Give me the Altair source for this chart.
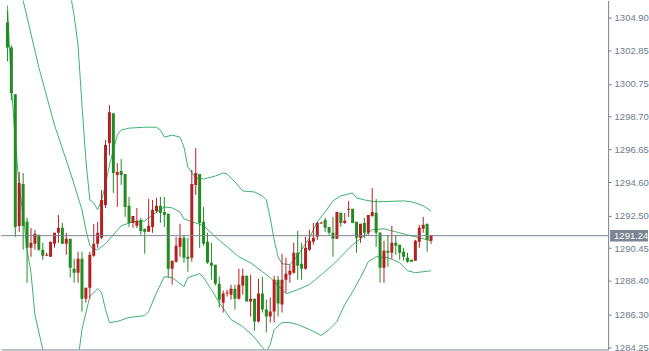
import altair as alt
import pandas as pd

# ---- candle data ----
opens = [1304.61, 1303.04, 1300.11, 1291.85, 1294.48, 1292.11, 1290.48, 1290.73, 1291.29, 1290.36,
         1289.98, 1289.92, 1290.73, 1291.42, 1291.73, 1290.73, 1291.04, 1289.17, 1288.92, 1289.79,
         1287.29, 1287.98, 1289.98, 1290.73, 1291.11, 1293.17, 1297.04, 1298.92, 1295.04, 1295.29,
         1295.11, 1293.11, 1292.04, 1291.86, 1292.23, 1291.67, 1291.48, 1291.79, 1292.79, 1293.11,
         1292.73, 1292.61, 1289.17, 1289.61, 1290.54, 1291.11, 1289.92, 1289.86, 1294.42, 1295.11,
         1292.11, 1290.86, 1289.54, 1289.42, 1288.23, 1287.04, 1287.61, 1287.54, 1287.92, 1287.29,
         1288.11, 1288.73, 1287.11, 1287.29, 1285.86, 1287.61, 1286.61, 1286.17, 1286.48, 1288.48,
         1286.92, 1288.48, 1288.79, 1288.92, 1290.17, 1289.48, 1289.17, 1290.36, 1290.86, 1291.17,
         1292.00, 1292.23, 1291.79, 1291.42, 1291.04, 1292.67, 1292.04, 1292.86, 1292.92, 1292.11,
         1291.11, 1292.04, 1291.42, 1292.48, 1292.67, 1291.42, 1289.23, 1290.29, 1290.17, 1290.79,
         1290.67, 1290.23, 1289.86, 1289.73, 1289.67, 1290.86, 1291.67, 1291.98, 1290.92]
highs = [1305.36, 1303.17, 1300.11, 1295.23, 1295.17, 1292.36, 1291.73, 1291.61, 1291.29, 1290.79,
         1290.17, 1290.86, 1291.42, 1292.54, 1292.04, 1291.42, 1291.04, 1289.79, 1290.23, 1290.23,
         1287.98, 1290.23, 1291.98, 1292.11, 1294.11, 1297.23, 1299.42, 1298.92, 1295.79, 1296.04,
         1295.11, 1293.67, 1292.48, 1292.98, 1292.36, 1291.67, 1293.54, 1293.48, 1293.61, 1293.67,
         1293.67, 1292.61, 1289.67, 1291.17, 1291.98, 1291.29, 1291.11, 1295.36, 1296.73, 1295.11,
         1293.04, 1291.42, 1290.79, 1289.42, 1288.67, 1287.79, 1287.86, 1288.17, 1288.17, 1289.17,
         1289.17, 1288.73, 1288.79, 1287.29, 1288.54, 1288.67, 1287.23, 1287.36, 1288.73, 1288.73,
         1290.11, 1289.86, 1289.42, 1290.79, 1291.54, 1290.79, 1291.17, 1291.61, 1292.04, 1292.11,
         1292.11, 1292.36, 1291.79, 1292.42, 1292.73, 1292.67, 1292.67, 1293.42, 1292.92, 1292.11,
         1291.98, 1292.36, 1292.54, 1294.23, 1293.54, 1291.48, 1290.92, 1291.29, 1291.86, 1291.29,
         1290.67, 1290.48, 1290.17, 1289.73, 1290.98, 1291.92, 1292.42, 1291.98, 1291.29]
lows = [1302.17, 1299.73, 1291.17, 1291.48, 1290.36, 1288.29, 1289.92, 1290.36, 1290.29, 1289.73,
        1289.98, 1289.92, 1290.48, 1290.79, 1290.73, 1290.04, 1288.61, 1288.29, 1288.29, 1286.48,
        1287.04, 1287.29, 1289.92, 1290.48, 1291.04, 1292.98, 1296.29, 1293.92, 1293.04, 1294.42,
        1292.42, 1291.79, 1291.73, 1291.73, 1291.29, 1290.11, 1291.48, 1291.42, 1292.67, 1292.04,
        1291.79, 1288.61, 1288.17, 1289.54, 1289.92, 1289.54, 1288.98, 1289.61, 1293.79, 1290.48,
        1290.61, 1289.48, 1288.48, 1288.11, 1286.73, 1286.42, 1287.42, 1287.23, 1286.61, 1287.23,
        1287.54, 1287.11, 1286.17, 1285.29, 1285.79, 1286.42, 1285.17, 1285.79, 1285.79, 1286.17,
        1286.42, 1287.67, 1288.29, 1288.86, 1288.48, 1288.48, 1289.11, 1290.29, 1290.67, 1290.98,
        1291.98, 1291.48, 1291.29, 1289.92, 1291.04, 1291.79, 1291.98, 1292.42, 1292.04, 1290.17,
        1290.79, 1291.11, 1291.29, 1292.42, 1290.54, 1288.29, 1288.29, 1289.29, 1289.79, 1290.04,
        1289.73, 1289.67, 1289.54, 1289.61, 1289.67, 1290.48, 1291.42, 1290.23, 1290.73]
closes = [1303.04, 1300.17, 1291.79, 1294.54, 1291.85, 1290.48, 1290.79, 1291.36, 1290.36, 1289.98,
          1290.04, 1290.86, 1291.42, 1291.73, 1290.73, 1291.04, 1289.23, 1288.92, 1289.79, 1287.29,
          1287.98, 1290.04, 1290.73, 1291.42, 1293.48, 1296.92, 1298.98, 1295.17, 1295.23, 1295.04,
          1293.04, 1292.04, 1292.48, 1292.17, 1291.54, 1291.48, 1291.86, 1292.86, 1293.11, 1292.67,
          1292.54, 1289.17, 1289.67, 1290.61, 1291.11, 1289.86, 1289.79, 1294.48, 1295.17, 1292.04,
          1290.73, 1289.54, 1289.36, 1288.23, 1287.23, 1287.61, 1287.67, 1287.92, 1287.29, 1288.17,
          1288.73, 1287.11, 1287.29, 1285.86, 1287.61, 1286.61, 1286.17, 1286.48, 1288.48, 1286.98,
          1288.48, 1288.86, 1289.04, 1290.17, 1289.36, 1289.17, 1290.48, 1290.92, 1291.11, 1292.04,
          1292.06, 1291.73, 1291.42, 1291.04, 1292.73, 1292.04, 1292.17, 1292.92, 1292.04, 1291.11,
          1291.98, 1291.42, 1292.54, 1292.73, 1291.42, 1289.23, 1290.29, 1290.17, 1290.79, 1290.61,
          1290.17, 1289.92, 1289.61, 1289.61, 1290.92, 1291.73, 1291.92, 1290.98, 1291.24]

# ---- Bollinger band readings (bar index, price) ----
upper_idx = [0, 10, 15, 17, 18, 19, 20, 21, 22, 23, 24, 25, 26, 27, 28, 29, 31, 35, 38, 39, 40, 42, 44, 45,
             46, 48, 50, 53, 55, 56, 58, 60, 63, 65, 66, 67, 68, 69, 70, 72, 74, 75, 77, 79, 81, 83, 85,
             87, 88, 89, 91, 94, 101, 103, 104, 106, 108]
upper_val = [1315.0, 1311.5, 1307.85, 1305.04, 1303.17, 1299.42, 1295.98, 1293.48, 1293.29, 1292.86,
             1293.48, 1294.42, 1295.67, 1296.61, 1297.54, 1297.86, 1297.98, 1298.04, 1298.04, 1297.86,
             1297.42, 1297.54, 1297.42, 1296.79, 1295.54, 1294.86, 1294.79, 1294.98, 1295.17, 1295.11,
             1294.61, 1294.04, 1293.98, 1293.73, 1293.48, 1292.36, 1290.98, 1289.92, 1289.48, 1289.42,
             1289.98, 1290.36, 1291.11, 1292.11, 1292.73, 1293.42, 1293.73, 1293.86, 1293.92, 1293.61,
             1293.48, 1293.36, 1293.42, 1293.36, 1293.29, 1293.11, 1292.79]
middle_idx = [0, 4, 8, 12, 16, 19, 20, 21, 22, 23, 25, 27, 29, 32, 35, 37, 40, 42, 44, 45, 48, 50, 53,
              56, 59, 62, 65, 67, 70, 71, 72, 74, 77, 80, 83, 86, 88, 90, 93, 96, 99, 102, 105, 108]
middle_val = [1310.04, 1305.98, 1301.79, 1298.17, 1295.23, 1292.86, 1291.61, 1290.61, 1290.42, 1290.36,
              1290.73, 1291.29, 1291.86, 1292.11, 1292.17, 1292.54, 1293.04, 1292.98, 1292.73, 1292.29,
              1292.04, 1291.86, 1291.17, 1290.54, 1289.92, 1289.54, 1288.98, 1288.61, 1287.86, 1287.61,
              1287.67, 1287.86, 1288.17, 1288.79, 1289.42, 1290.17, 1290.67, 1291.04, 1291.61, 1291.67,
              1291.48, 1291.29, 1291.11, 1290.92]
lower_idx = [0, 1, 2, 3, 4, 5, 6, 7, 9, 11, 14, 17, 18, 19, 21, 23, 24, 25, 26, 28, 31, 35, 36, 38, 40,
             42, 45, 46, 49, 50, 52, 54, 57, 60, 63, 65, 66, 67, 68, 70, 72, 74, 77, 80, 82, 84, 86, 88,
             90, 92, 94, 97, 100, 102, 104, 106, 108]
lower_val = [1305.67, 1300.67, 1297.23, 1294.29, 1292.54, 1290.36, 1288.92, 1286.29, 1284.11, 1281.61,
             1280.36, 1281.29, 1283.48, 1285.36, 1287.42, 1287.92, 1287.67, 1286.61, 1285.79, 1285.86,
             1286.11, 1286.23, 1286.48, 1287.67, 1288.67, 1288.61, 1288.04, 1288.61, 1288.86, 1288.61,
             1287.86, 1287.04, 1285.98, 1285.54, 1284.86, 1284.23, 1283.98, 1284.42, 1285.36, 1285.79,
             1285.79, 1285.67, 1285.36, 1284.98, 1285.36, 1285.86, 1286.92, 1287.73, 1288.61, 1289.61,
             1289.92, 1289.86, 1289.54, 1289.04, 1288.92, 1288.98, 1289.04]

tick_values = [1304.90, 1302.85, 1300.75, 1298.70, 1296.65, 1294.60, 1292.50, 1290.45, 1288.40,
               1286.30, 1284.25]
current_price = [1291.24]

# ---- tables ----
candles = pd.DataFrame({"i": list(range(len(opens))), "open": opens, "high": highs,
                        "low": lows, "close": closes})
candles["dir"] = ["up" if c >= o else "down" for o, c in zip(opens, closes)]

bands = pd.concat([
    pd.DataFrame({"i": upper_idx, "v": upper_val, "band": "upper"}),
    pd.DataFrame({"i": middle_idx, "v": middle_val, "band": "middle"}),
    pd.DataFrame({"i": lower_idx, "v": lower_val, "band": "lower"}),
])
price_df = pd.DataFrame({"p": current_price, "label": [f"{current_price[0]:.2f}"]})

W, H = 609, 350
xscale = alt.Scale(domain=[-0.375, 151.875], nice=False, zero=False)
yscale = alt.Scale(domain=[1284.106, 1305.98], nice=False, zero=False)
AXIS_COL = "#7a8290"
LABEL_COL = "#6f7b8c"

xaxis = alt.Axis(labels=False, ticks=False, grid=False, title=None,
                 domainColor=AXIS_COL, domainWidth=1)
yaxis = alt.Axis(orient="right", values=tick_values, format=".2f", title=None, grid=False,
                 labelColor=LABEL_COL, labelFont="Liberation Sans", labelFontSize=9.5,
                 tickColor=AXIS_COL, tickSize=3, labelPadding=3, labelOverlap=False,
                 labelSeparation=0, domainColor=AXIS_COL, domainWidth=1, labelFlush=False)


def X(field):
    return alt.X(field, scale=xscale, axis=xaxis, title=None)


def Y(field):
    return alt.Y(field, scale=yscale, axis=yaxis, title=None)


color = alt.Color("dir:N", scale=alt.Scale(domain=["up", "down"], range=["#b22222", "#228b22"]),
                  legend=None)

band_layer = alt.Chart(bands).mark_line(color="#3cb371", strokeWidth=1, clip=True).encode(
    x=X("i:Q"), y=Y("v:Q"), detail="band:N")

wicks = alt.Chart(candles).mark_rule(strokeWidth=1, clip=True).encode(
    x=X("i:Q"), y=Y("low:Q"), y2="high:Q", color=color)

bodies = alt.Chart(candles).mark_bar(size=3, clip=True).encode(
    x=X("i:Q"), y=Y("open:Q"), y2="close:Q", color=color)

price_line = alt.Chart(price_df).mark_rule(color="#7c8593", strokeWidth=1).encode(
    y=Y("p:Q"), x=alt.value(0), x2=alt.value(W))

price_box = alt.Chart(price_df).transform_calculate(
    top="datum.p + 0.36", bot="datum.p - 0.36"
).mark_rect(color="#7c8593").encode(
    y=Y("top:Q"), y2="bot:Q", x=alt.value(W + 2), x2=alt.value(649))

price_text = alt.Chart(price_df).mark_text(
    align="left", baseline="middle", color="white", font="Liberation Sans", fontSize=9.5
).encode(y=Y("p:Q"), x=alt.value(W + 6), text="label:N")

chart = alt.layer(band_layer, wicks, bodies, price_line, price_box, price_text).properties(
    width=W, height=H, padding=0, background="white"
).configure_view(stroke=None)

chart.save("out.html", embed_options={"renderer": "svg", "actions": False})
